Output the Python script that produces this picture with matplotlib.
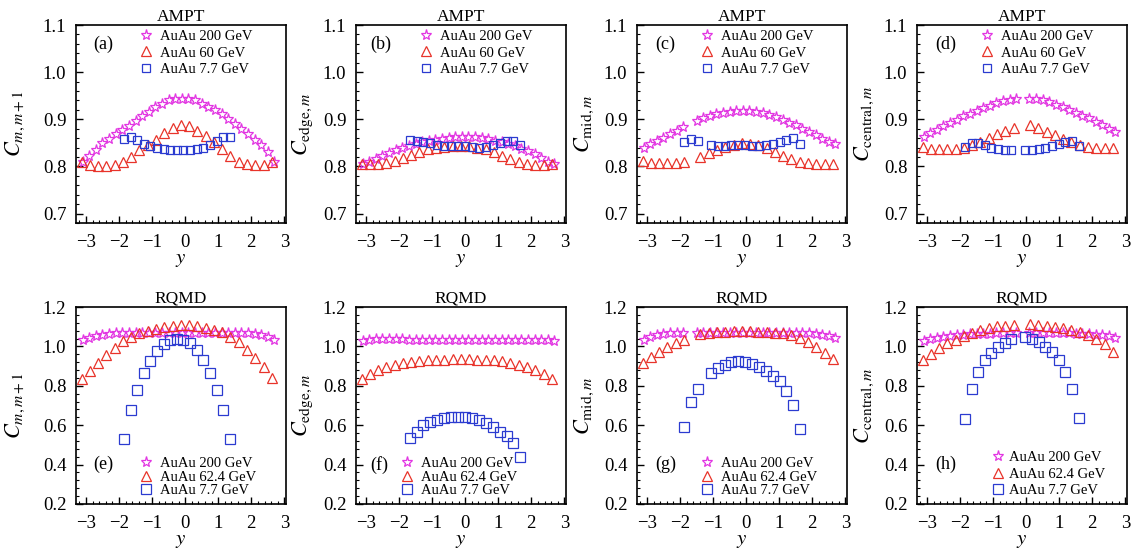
import numpy as np
import matplotlib
matplotlib.use('Agg')
import matplotlib.pyplot as plt
from matplotlib.ticker import MultipleLocator

plt.rcParams['font.family'] = 'Liberation Serif'
plt.rcParams['mathtext.fontset'] = 'stix'

nan = np.nan

# rapidity bins
x_star = [-3.1, -2.9, -2.7, -2.5, -2.3, -2.1, -1.9, -1.7, -1.5, -1.3, -1.1, -0.9, -0.7, -0.5, -0.3,
          -0.1, 0.1, 0.3, 0.5, 0.7, 0.9, 1.1, 1.3, 1.5, 1.7, 1.9, 2.1, 2.3, 2.5, 2.7]
x_tri = [-3.13, -2.88, -2.63, -2.38, -2.13, -1.88, -1.63, -1.38, -1.13, -0.88, -0.63, -0.38,
         -0.13, 0.12, 0.37, 0.62, 0.87, 1.12, 1.37, 1.62, 1.87, 2.12, 2.37, 2.62]
x_sq_a = [-1.85, -1.65, -1.45, -1.25, -1.05, -0.85, -0.65, -0.45, -0.25, -0.05, 0.15, 0.35, 0.55,
          0.75, 0.95, 1.15, 1.35]
x_sq_b = [-1.68, -1.47, -1.26, -1.05, -0.84, -0.63, -0.42, -0.21, 0.0, 0.21, 0.42, 0.63, 0.84,
          1.05, 1.26, 1.45, 1.65]
x_sq_c = [-1.87, -1.67, -1.46, -1.06, -0.86, -0.65, -0.45, -0.24, -0.04, 0.19, 0.4, 0.6, 0.81,
          1.01, 1.21, 1.42, 1.62]
x_sq_d = [-1.85, -1.65, -1.45, -1.25, -1.05, -0.85, -0.65, -0.45, -0.02, 0.18, 0.38, 0.58, 0.78,
          0.98, 1.18, 1.39, 1.6]

# AMPT
a_200 = [0.81, 0.822, 0.835, 0.849, 0.858, 0.869, 0.877, 0.886, 0.896, 0.906, 0.916, 0.925, 0.933, 0.94, 0.943,
         0.944, 0.943, 0.94, 0.933, 0.926, 0.919, 0.911, 0.9, 0.889, 0.88, 0.868, 0.857, 0.845, 0.83, 0.81]
a_60 = [0.81, 0.802, 0.8, 0.8, 0.804, 0.81, 0.82, 0.834, 0.846, 0.857, 0.87, 0.881,
        0.887, 0.885, 0.876, 0.864, 0.851, 0.836, 0.822, 0.81, 0.805, 0.803, 0.804, 0.81]
a_77 = [0.858, 0.862, 0.856, 0.848, 0.843, 0.84, 0.837, 0.835, 0.835, 0.835, 0.835, 0.836, 0.839,
        0.845, 0.853, 0.863, 0.862]

b_200 = [0.805, 0.81, 0.816, 0.822, 0.828, 0.834, 0.839, 0.843, 0.847, 0.851, 0.854, 0.857, 0.859, 0.861, 0.862,
         0.863, 0.863, 0.862, 0.86, 0.858, 0.855, 0.851, 0.847, 0.843, 0.838, 0.832, 0.826, 0.818, 0.81, 0.805]
b_60 = [0.805, 0.805, 0.805, 0.808, 0.812, 0.818, 0.825, 0.831, 0.836, 0.84, 0.842, 0.843,
        0.844, 0.843, 0.84, 0.836, 0.83, 0.822, 0.815, 0.81, 0.806, 0.803, 0.803, 0.805]
b_77 = [0.857, 0.855, 0.852, 0.849, 0.846, 0.844, 0.843, 0.843, 0.843, 0.842, 0.84, 0.842, 0.845,
        0.849, 0.853, 0.855, 0.845]

c_200 = [0.84, 0.847, 0.854, 0.861, 0.868, 0.876, 0.884, nan, 0.897, 0.902, 0.907, 0.911, 0.914, 0.916, 0.917,
         0.918, 0.918, 0.916, 0.913, 0.909, 0.904, 0.899, 0.893, 0.887, 0.88, 0.873, 0.866, 0.859, 0.852, 0.847]
c_60 = [0.812, 0.808, 0.807, 0.807, 0.808, 0.81, nan, 0.82, 0.828, 0.835, 0.841, 0.846,
        0.849, 0.848, 0.845, 0.839, 0.831, 0.823, 0.815, 0.81, 0.807, 0.805, 0.805, 0.806]
c_77 = [0.852, 0.858, 0.853, 0.846, 0.844, 0.844, 0.845, 0.845, 0.845, 0.844, 0.843, 0.845, 0.848,
        0.852, 0.856, 0.86, 0.848]

d_200 = [0.863, 0.871, 0.878, 0.885, 0.892, 0.899, 0.906, 0.912, 0.918, 0.924, 0.929, 0.934, 0.938, 0.941, 0.943,
         nan, 0.944, 0.943, 0.94, 0.936, 0.931, 0.926, 0.92, 0.914, 0.908, 0.902, 0.895, 0.888, 0.88, 0.873]
d_60 = [0.842, 0.838, 0.836, 0.836, 0.837, 0.84, 0.845, 0.852, 0.86, 0.868, 0.876, 0.882,
        nan, 0.887, 0.881, 0.874, 0.866, 0.858, 0.851, 0.845, 0.841, 0.839, 0.839, 0.84]
d_77 = [0.842, 0.85, 0.849, 0.845, 0.84, 0.837, 0.835, 0.834, 0.834, 0.835, 0.837, 0.84, 0.843,
        0.847, 0.852, 0.854, 0.843]

# RQMD
e_200 = [1.03, 1.042, 1.052, 1.06, 1.065, 1.068, 1.07, 1.07, 1.07, 1.07, 1.07, 1.07, 1.07, 1.07, 1.07,
         1.07, 1.07, 1.07, 1.07, 1.07, 1.07, 1.07, 1.07, 1.07, 1.069, 1.067, 1.064, 1.058, 1.048, 1.032]
e_62 = [0.835, 0.875, 0.915, 0.955, 0.99, 1.025, 1.05, 1.068, 1.08, 1.09, 1.098, 1.104,
        1.108, 1.107, 1.102, 1.095, 1.085, 1.072, 1.05, 1.02, 0.98, 0.94, 0.895, 0.84]
e_77 = [0.528, 0.679, 0.78, 0.864, 0.926, 0.976, 1.01, 1.032, 1.04, 1.035, 1.015, 0.98, 0.93,
        0.864, 0.78, 0.679, 0.528]

f_200 = [1.028, 1.033, 1.036, 1.037, 1.037, 1.036, 1.036, 1.035, 1.035, 1.034, 1.034, 1.034, 1.033, 1.033, 1.033,
         1.033, 1.033, 1.033, 1.033, 1.033, 1.033, 1.033, 1.033, 1.033, 1.033, 1.032, 1.032, 1.031, 1.03, 1.025]
f_62 = [0.835, 0.86, 0.878, 0.893, 0.905, 0.915, 0.922, 0.927, 0.93, 0.932, 0.933, 0.934,
        0.934, 0.934, 0.933, 0.932, 0.93, 0.925, 0.918, 0.908, 0.895, 0.878, 0.858, 0.832]
f_77 = [0.535, 0.568, 0.6, 0.615, 0.627, 0.635, 0.64, 0.64, 0.64, 0.635, 0.624, 0.61, 0.59,
        0.565, 0.545, 0.51, 0.44]

g_200 = [1.035, 1.048, 1.057, 1.063, 1.067, 1.069, 1.07, nan, 1.07, 1.07, 1.07, 1.07, 1.07, 1.07, 1.07,
         1.07, 1.07, 1.07, 1.07, 1.07, 1.07, 1.07, 1.07, 1.069, 1.068, 1.066, 1.063, 1.058, 1.052, 1.045]
g_62 = [0.915, 0.945, 0.97, 0.995, 1.015, 1.035, nan, 1.065, 1.07, 1.073, 1.075, 1.076,
        1.076, 1.076, 1.075, 1.073, 1.07, 1.066, 1.06, 1.045, 1.02, 0.995, 0.965, 0.937]
g_77 = [0.59, 0.72, 0.785, 0.865, 0.89, 0.908, 0.92, 0.925, 0.922, 0.912, 0.895, 0.875, 0.85,
        0.822, 0.775, 0.705, 0.583]

h_200 = [1.028, 1.038, 1.045, 1.05, 1.054, 1.057, 1.06, 1.062, 1.063, 1.064, 1.065, 1.066, 1.066, 1.067, 1.067,
         nan, 1.068, 1.068, 1.068, 1.068, 1.067, 1.067, 1.066, 1.065, 1.064, 1.062, 1.06, 1.056, 1.051, 1.045]
h_62 = [0.93, 0.96, 0.99, 1.015, 1.035, 1.055, 1.07, 1.085, 1.095, 1.102, 1.106, 1.108,
        nan, 1.112, 1.108, 1.104, 1.1, 1.093, 1.085, 1.075, 1.06, 1.04, 1.01, 0.97]
h_77 = [0.633, 0.786, 0.87, 0.929, 0.966, 0.996, 1.016, 1.038, 1.046, 1.038, 1.02, 0.996, 0.97,
        0.93, 0.87, 0.786, 0.635]

labels_ampt = ['AuAu 200 GeV', 'AuAu 60 GeV', 'AuAu 7.7 GeV']
labels_rqmd = ['AuAu 200 GeV', 'AuAu 62.4 GeV', 'AuAu 7.7 GeV']
ylabels = [r'$C_{m,m+1}$', r'$C_{\mathrm{edge},m}$', r'$C_{\mathrm{mid},m}$', r'$C_{\mathrm{central},m}$']

panels = [
    ('(a)', 'AMPT', a_200, a_60, a_77, x_sq_a),
    ('(b)', 'AMPT', b_200, b_60, b_77, x_sq_b),
    ('(c)', 'AMPT', c_200, c_60, c_77, x_sq_c),
    ('(d)', 'AMPT', d_200, d_60, d_77, x_sq_d),
    ('(e)', 'RQMD', e_200, e_62, e_77, x_sq_a),
    ('(f)', 'RQMD', f_200, f_62, f_77, x_sq_b),
    ('(g)', 'RQMD', g_200, g_62, g_77, x_sq_c),
    ('(h)', 'RQMD', h_200, h_62, h_77, x_sq_d),
]

c_star = '#e236e2'
c_tri = '#e8332a'
c_sq = '#2b3bd0'

W, H = 1135, 559
fig = plt.figure(figsize=(W / 100, H / 100), dpi=100)
lefts = [76, 356, 637, 917]
rows = [(25, 223), (307, 504)]
tag_x = [0.08, 0.07, 0.086, 0.086]
leg_x_rqmd = [0.30, 0.21, 0.30, 0.35]

for i, (tag, model, s200, s_mid, s77, xsq) in enumerate(panels):
    row, col = divmod(i, 4)
    top, bot = rows[row]
    ax = fig.add_axes([lefts[col] / W, 1 - bot / H, 210 / W, (bot - top) / H])
    ampt = model == 'AMPT'
    labels = labels_ampt if ampt else labels_rqmd
    sq_ms = 6 if ampt else 6.8

    ax.plot(x_star, s200, ls='none', marker='*', ms=8, mfc='none', mec=c_star, mew=0.9, label=labels[0])
    ax.plot(x_tri, s_mid, ls='none', marker='^', ms=6.5, mfc='none', mec=c_tri, mew=0.9, label=labels[1])
    ax.plot(xsq, s77, ls='none', marker='s', ms=sq_ms, mfc='none', mec=c_sq, mew=0.9, label=labels[2])

    ax.set_xlim(-3.3, 3.05)
    ax.xaxis.set_major_locator(MultipleLocator(1))
    ax.xaxis.set_minor_locator(MultipleLocator(0.2))
    if ampt:
        ax.set_ylim(0.68, 1.1)
        ax.yaxis.set_major_locator(MultipleLocator(0.1))
        ax.yaxis.set_minor_locator(MultipleLocator(0.02))
    else:
        ax.set_ylim(0.2, 1.2)
        ax.yaxis.set_major_locator(MultipleLocator(0.2))
        ax.yaxis.set_minor_locator(MultipleLocator(0.04))
    ax.yaxis.set_major_formatter(plt.FormatStrFormatter('%.1f'))

    ax.tick_params(which='both', direction='in', top=False, right=False, labelsize=13.5)
    ax.tick_params(which='major', length=5, width=1)
    ax.tick_params(which='minor', length=2.5, width=0.8)
    ax.tick_params(axis='x', pad=8)
    ax.tick_params(axis='y', pad=7)
    for sp in ax.spines.values():
        sp.set_linewidth(1.2)

    ax.set_title(model, fontsize=12.5, pad=3)
    ax.set_xlabel(r'$y$', fontsize=15, labelpad=-1)
    ax.set_ylabel(ylabels[col], fontsize=16)
    ax.yaxis.set_label_coords(-0.235 if col == 0 else -0.195, 0.5)

    if ampt:
        ax.text(tag_x[col], 0.9, tag, transform=ax.transAxes, fontsize=13, va='center', ha='left')
        ax.legend(loc='upper left', bbox_to_anchor=(0.30, 0.975), frameon=False, fontsize=10.5,
                  handlelength=1.0, handletextpad=0.45, borderpad=0, borderaxespad=0,
                  labelspacing=0.22, numpoints=1)
    else:
        ax.text(tag_x[col], 0.2, tag, transform=ax.transAxes, fontsize=13, va='center', ha='left')
        ax.legend(loc='lower left', bbox_to_anchor=(leg_x_rqmd[col], 0.035), frameon=False, fontsize=10.5,
                  handlelength=1.0, handletextpad=0.45 if col < 3 else 0.25, borderpad=0, borderaxespad=0,
                  labelspacing=0.02 if col < 3 else 0.22, numpoints=1)

fig.savefig('out.png', dpi=100)
